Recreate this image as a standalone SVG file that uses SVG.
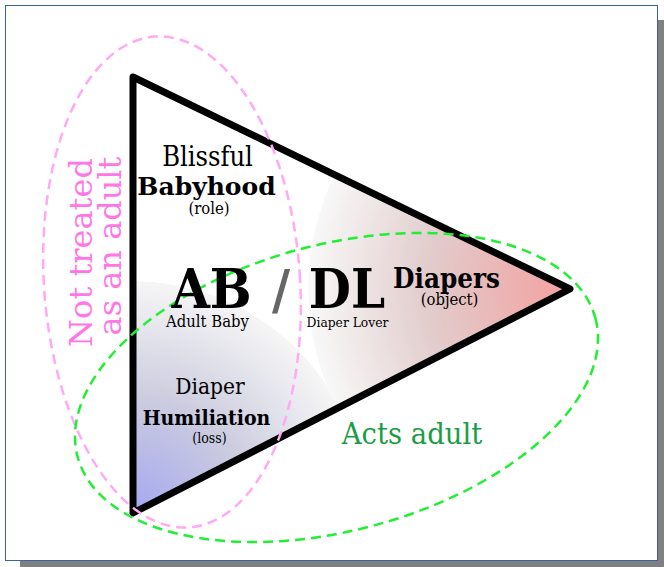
<svg xmlns="http://www.w3.org/2000/svg" width="664" height="567" viewBox="0 0 664 567">
<defs>
<style>
text{font-family:"DejaVu Serif Condensed","DejaVu Serif",serif;font-stretch:condensed;text-anchor:middle;fill:#000}
.n{font-family:"DejaVu Serif",serif;font-stretch:normal}
.b{font-weight:bold}
</style>
<radialGradient id="gr" gradientUnits="userSpaceOnUse" cx="570" cy="289" r="262">
<stop offset="0" stop-color="#f4a0a0"/>
<stop offset="0.55" stop-color="#e2cccc"/>
<stop offset="0.998" stop-color="#f8f8f8"/>
<stop offset="1" stop-color="#fff" stop-opacity="0"/>
</radialGradient>
<radialGradient id="gb" gradientUnits="userSpaceOnUse" cx="133" cy="513" r="232">
<stop offset="0" stop-color="#a4a8f0"/>
<stop offset="0.5" stop-color="#ccccdf"/>
<stop offset="0.998" stop-color="#f6f6f6"/>
<stop offset="1" stop-color="#fff" stop-opacity="0"/>
</radialGradient>
</defs>
<rect x="20" y="20" width="644" height="547" fill="#808080"/>
<rect x="5.5" y="5.5" width="652" height="555" fill="#fff" stroke="#3465a4" stroke-width="1"/>
<g id="triangle">
<path d="M133,77 L570,289 L133,513 Z" fill="url(#gr)"/>
<path d="M133,77 L570,289 L133,513 Z" fill="url(#gb)"/>
<path d="M133,77 L570,289 L133,513 Z" fill="none" stroke="#000" stroke-width="7" stroke-linejoin="round"/>
</g>
<g id="not-treated">
<ellipse cx="172" cy="282" rx="128" ry="246" transform="rotate(-4 172 282)" fill="none" stroke="#ffaaf5" stroke-width="2.5" stroke-dasharray="10,6"/>
<text class="n" transform="translate(92,252.5) rotate(-90)" style="font-size:32px;fill:#ff77e6">Not treated</text>
<text class="n" transform="translate(121,246) rotate(-90)" style="font-size:32px;fill:#ff77e6">as an adult</text>
</g>
<g id="acts-adult">
<ellipse cx="336.5" cy="387.5" rx="268" ry="143" transform="rotate(-15 336.5 387.5)" fill="none" stroke="#22ee33" stroke-width="2.5" stroke-dasharray="10,6"/>
<text x="412" y="444" style="font-size:30.5px;fill:#1a9e45">Acts adult</text>
</g>
<g id="babyhood">
<text x="207.5" y="166" style="font-size:27px">Blissful</text>
<text x="206.5" y="195" class="b n" style="font-size:25px">Babyhood</text>
<text x="209" y="214" style="font-size:16.5px">(role)</text>
</g>
<g id="ab">
<text x="211.5" y="308" class="b" style="font-size:55px">AB</text>
<text x="207.5" y="327" style="font-size:16.5px">Adult Baby</text>
</g>
<text x="281" y="309" class="b" style="font-size:55px;fill:#666">/</text>
<g id="dl">
<text x="347" y="308" class="b" style="font-size:54px">DL</text>
<text x="347.5" y="327" style="font-size:13.7px">Diaper Lover</text>
</g>
<g id="diapers">
<text x="446.5" y="287.5" class="b" style="font-size:27.5px">Diapers</text>
<text x="449.5" y="305" style="font-size:16.5px">(object)</text>
</g>
<g id="humiliation">
<text x="210" y="394" style="font-size:22.5px">Diaper</text>
<text x="206.5" y="425" class="b" style="font-size:21px">Humiliation</text>
<text x="209.5" y="443" style="font-size:14px">(loss)</text>
</g>
</svg>
